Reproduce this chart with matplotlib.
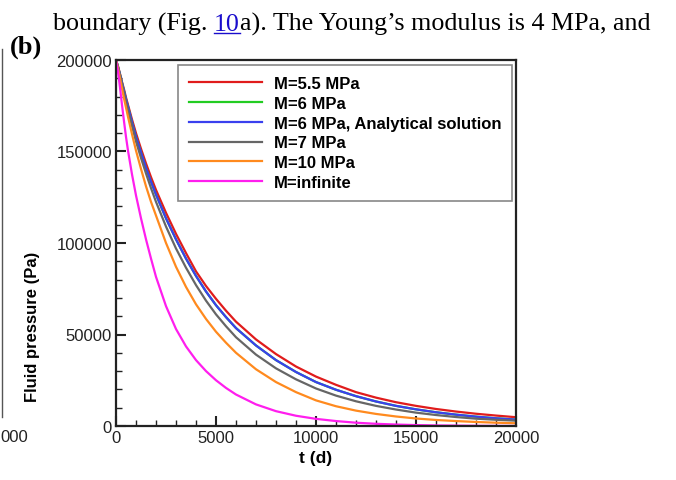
import matplotlib
matplotlib.use('Agg')
import matplotlib.pyplot as plt
from matplotlib.lines import Line2D
from matplotlib.ticker import MultipleLocator

# values
t_days = [0, 100, 200, 300, 400, 500, 600, 800, 1000, 1250, 1500, 1750,
          2000, 2500, 3000, 3500, 4000, 4500, 5000, 5500, 6000, 7000, 8000,
          9000, 10000, 11000, 12000, 13000, 14000, 15000, 16000, 17000,
          18000, 19000, 20000]

p_m55 = [200000, 196500, 192500, 188000, 184000, 179500, 175500, 167500,
         160000, 151500, 143500, 136000, 129000, 116500, 105000, 94500,
         84500, 76500, 69500, 63000, 57000, 47300, 39300, 32500, 27000,
         22500, 18500, 15500, 13000, 11000, 9300, 7900, 6700, 5700, 4800]
p_m6 = [200000, 196300, 192000, 187500, 183000, 178500, 174500, 166000,
        158000, 149500, 141000, 133500, 126500, 113500, 102000, 91500,
        82000, 73500, 66000, 59500, 53500, 44000, 36000, 29500, 24000,
        19800, 16300, 13400, 11000, 9100, 7500, 6200, 5100, 4200, 3500]
p_m6_analytical = [200000, 196300, 192000, 187500, 183000, 178500, 174500,
                   166000, 158000, 149500, 141000, 133500, 126500, 113500,
                   102000, 91500, 82000, 73500, 66000, 59500, 53500, 44000,
                   36000, 29500, 24000, 19800, 16300, 13400, 11000, 9100,
                   7500, 6200, 5100, 4200, 3500]
p_m7 = [200000, 196000, 191500, 186500, 181500, 177000, 172500, 164000,
        155500, 146500, 138000, 130000, 122500, 109000, 97000, 86500,
        77000, 68500, 61000, 54500, 48500, 39000, 31500, 25500, 20500,
        16600, 13500, 11000, 9000, 7300, 6000, 4900, 4000, 3400, 2900]
p_m10 = [200000, 195500, 190000, 184500, 179000, 174000, 169000, 159500,
         150500, 140500, 131000, 122500, 115000, 100000, 87000, 76000,
         66500, 58500, 51500, 45500, 40000, 31000, 24000, 18500, 14000,
         10800, 8400, 6600, 5200, 4100, 3300, 2700, 2200, 1800, 1500]
p_inf = [200000, 193500, 185000, 175500, 166500, 158000, 150500, 137500,
         126000, 113500, 102000, 91500, 81500, 65500, 53000, 43500, 36000,
         30000, 25000, 20800, 17200, 11800, 8100, 5600, 3900, 2700, 1800,
         1200, 800, 500, 300, 200, 100, 50, 0]

series = [p_m55, p_m6, p_m6_analytical, p_m7, p_m10, p_inf]
labels = ['M=5.5 MPa', 'M=6 MPa', 'M=6 MPa, Analytical solution',
          'M=7 MPa', 'M=10 MPa', 'M=infinite']
colors = ['#e01c1c', '#22cc22', '#3a40ee', '#666666', '#ff8a1e', '#ff1eee']

plt.rcParams['font.family'] = 'Liberation Sans'

W, H = 676, 481
fig = plt.figure(figsize=(W / 100, H / 100), dpi=100)
ax = fig.add_axes([116 / W, 1 - 427 / H, 400 / W, 366 / H])

for p, lab, col in zip(series, labels, colors):
    ax.plot(t_days, p, color=col, lw=1.6, label=lab)

ax.set_xlim(0, 20000)
ax.set_ylim(0, 200000)
ax.xaxis.set_major_locator(MultipleLocator(5000))
ax.xaxis.set_minor_locator(MultipleLocator(1000))
ax.yaxis.set_major_locator(MultipleLocator(50000))
ax.yaxis.set_minor_locator(MultipleLocator(10000))
ax.tick_params(which='both', direction='in', top=False, right=False,
               labelsize=12, pad=3, colors='#222222')
ax.tick_params(which='major', length=7, width=1.5)
ax.tick_params(which='minor', length=4, width=1)
for s in ax.spines.values():
    s.set_linewidth(1.6)
    s.set_color('#222222')

leg = ax.legend(loc='upper left', bbox_to_anchor=(0.155, 0.986),
                borderaxespad=0, prop=dict(weight='bold', size=12),
                handlelength=4.4, handletextpad=0.7, labelspacing=0.29,
                borderpad=0.65, fancybox=False, edgecolor='#888888',
                framealpha=1)
leg.get_frame().set_linewidth(1.2)

fig.text(33 / W, 1 - 327 / H, 'Fluid pressure (Pa)', rotation=90,
         ha='center', va='center', fontsize=12, fontweight='bold')
fig.text(316 / W, 1 - 458 / H, 't (d)', ha='center', va='center',
         fontsize=12.5, fontweight='bold')

# panel tag and the line of body text above the figure
fig.text(10 / W, 1 - 54 / H, '(b)', family='Liberation Serif',
         fontweight='bold', fontsize=19, va='baseline')

r = fig.canvas.get_renderer()
kw = dict(family='Liberation Serif', fontsize=18.7, va='baseline')


def width_px(s):
    t = fig.text(0, 0, s, **kw)
    w = t.get_window_extent(r).width
    t.remove()
    return w


space = width_px('x x') - width_px('xx')
y0 = 1 - 31 / H
t1 = fig.text(53 / W, y0, 'boundary (Fig.', **kw)
x = t1.get_window_extent(r).x1 + space
t2 = fig.text(x / W, y0, '10', color='#1a0dcc', **kw)
bb = t2.get_window_extent(r)
fig.add_artist(Line2D([bb.x0 / W, bb.x1 / W], [y0 - 2.5 / H, y0 - 2.5 / H],
                      transform=fig.transFigure, color='#1a0dcc', lw=1))
fig.text(bb.x1 / W, y0, 'a). The Young\u2019s modulus is 4 MPa, and', **kw)

# remnants of the neighbouring panel at the left edge
fig.add_artist(Line2D([1.5 / W, 1.5 / W], [1 - 50 / H, 1 - 418 / H],
                      transform=fig.transFigure, color='#555555', lw=1))
fig.text(0.5 / W, 1 - 438 / H, '000', ha='left', va='center',
         fontsize=12, color='#222222')

fig.savefig('out.png', dpi=100)
